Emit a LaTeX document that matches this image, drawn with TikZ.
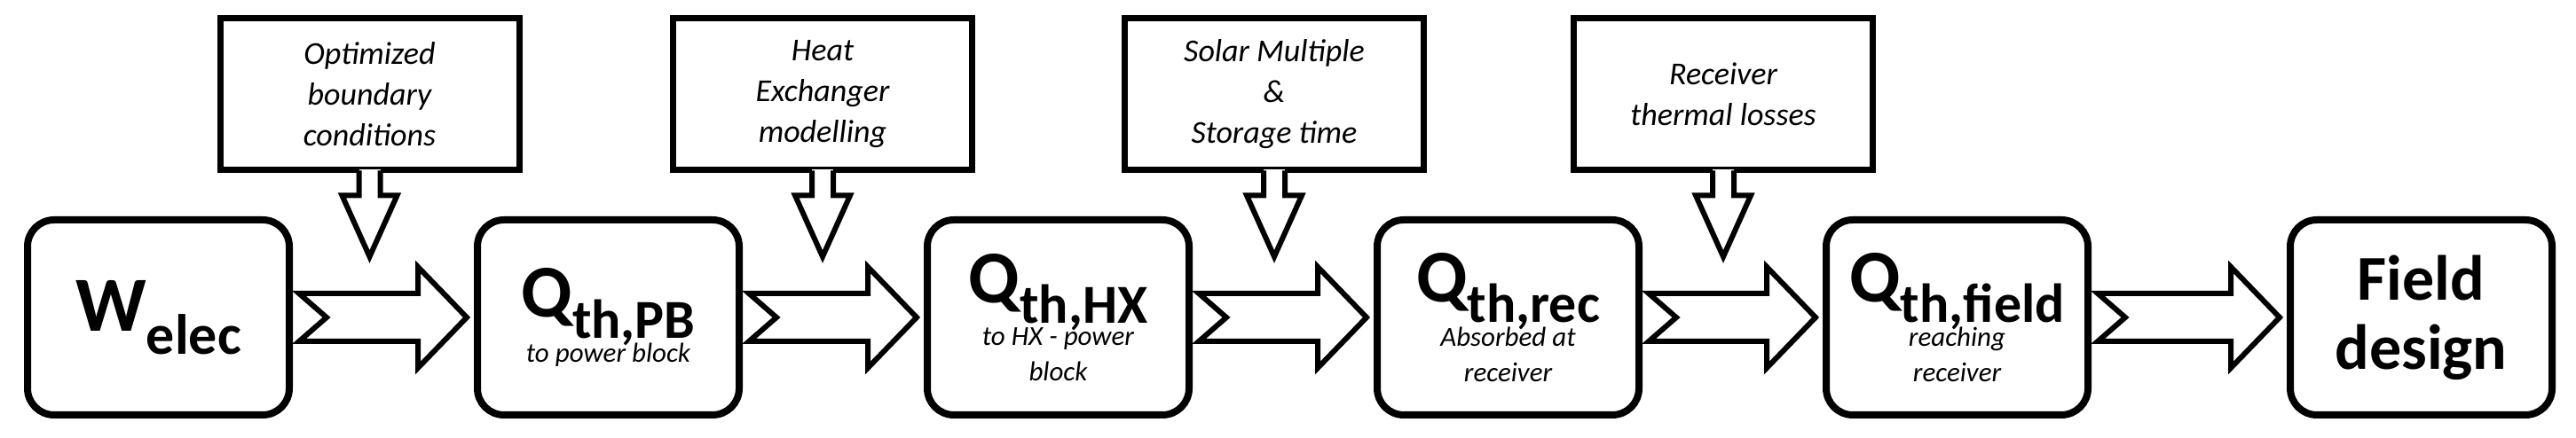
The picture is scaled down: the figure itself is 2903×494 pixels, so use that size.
\documentclass[tikz,border=0pt]{standalone}
\usepackage{fontspec}
\setmainfont{Carlito}
\usetikzlibrary{calc}
\tikzset{
  box/.style={draw,line width=8pt,rounded corners=30pt,minimum width=295pt,minimum height=220pt,inner sep=0pt,align=center},
  qbox/.style={box,font=\fontsize{31}{40}\selectfont\itshape},
  callout/.style={draw,line width=7pt,minimum width=337pt,minimum height=171pt,inner sep=0pt,align=center,font=\fontsize{36}{46}\selectfont\itshape},
  flow/.style={draw,line width=6pt,fill=white,line join=miter},
}
\newcommand{\Qhead}[1]{{\fontsize{84}{84}\selectfont\bfseries\upshape Q\raisebox{-0.28em}{\fontsize{62}{62}\selectfont #1}}\\[-4pt]}
\begin{document}
\begin{tikzpicture}[x=1pt,y=1pt]
\useasboundingbox (0,0) rectangle (2903,494);
\node[box] (b1) at (178.5,136) {\fontsize{88}{88}\selectfont\bfseries W\raisebox{-0.3em}{\fontsize{64}{64}\selectfont elec}};
\node[qbox] (b2) at (685.5,136) {\Qhead{th,PB}to power block};
\node[qbox] (b3) at (1192.5,136) {\Qhead{th,HX}to HX - power\\block};
\node[qbox] (b4) at (1699.5,136) {\Qhead{th,rec}Absorbed at\\receiver};
\node[qbox] (b5) at (2205.5,136) {\Qhead{th,field}reaching\\receiver};
\node[box,font=\fontsize{72}{78}\selectfont\bfseries] (b6) at (2728.5,136) {Field\\design};
\foreach \a/\b in {b1/b2,b2/b3,b3/b4,b4/b5,b5/b6}{
  \path let \p1=(\a.east), \p2=(\b.west) in
   coordinate (t) at (\x1+7,\y1)
   coordinate (h) at (\x2-8,\y1);
  \draw[flow] let \p1=(t), \p2=(h) in
   (\x1,\y1+27) -- (\x2-55,\y1+27) -- (\x2-55,\y1+57) -- (\x2,\y1) -- (\x2-55,\y1-57) -- (\x2-55,\y1-27) -- (\x1,\y1-27) -- (\x1+31,\y1) -- cycle;
}
\node[callout] (c1) at (416.5,387.5) {Optimized\\boundary\\conditions};
\node[callout] (c2) at (927,387.5) {Heat\\Exchanger\\modelling};
\node[callout] (c3) at (1436,387.5) {Solar Multiple\\\&\\Storage time};
\node[callout] (c4) at (1942,387.5) {Receiver\\thermal losses};
\foreach \c in {c1,c2,c3,c4}{
  \fill[white] let \p1=(\c.south) in (\x1-12,\y1+4) rectangle (\x1+12,\y1-4);
  \draw[line width=6pt,fill=white,line join=miter] let \p1=(\c.south) in
   (\x1-12,\y1+3) -- (\x1-12,\y1-25) -- (\x1-31,\y1-25) -- (\x1,\y1-94) -- (\x1+31,\y1-25) -- (\x1+12,\y1-25) -- (\x1+12,\y1+3);
}
\end{tikzpicture}
\end{document}
